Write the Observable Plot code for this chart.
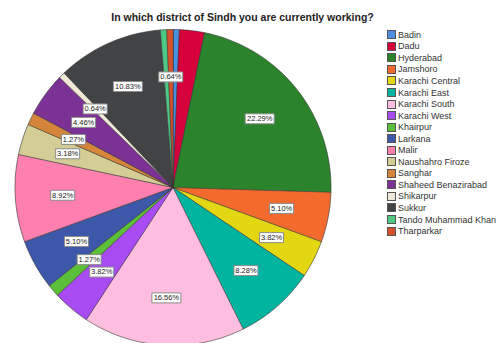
<!DOCTYPE html>
<html><head><meta charset="utf-8">
<script src="https://cdn.jsdelivr.net/npm/d3@7"></script>
<script src="https://cdn.jsdelivr.net/npm/@observablehq/plot@0.6"></script>
<style>
body{margin:0;background:#fff;font-family:"Liberation Sans",Arial,sans-serif;}
#wrap{position:relative;width:499px;height:343px;overflow:hidden;background:#fff;}
#chart{position:absolute;left:0;top:0;}
#title{position:absolute;top:11px;left:0;width:485px;text-align:center;font-weight:bold;font-size:10.5px;color:#222;white-space:nowrap;}
#legend{position:absolute;left:387px;top:29px;font-size:9px;color:#333;}
.item{display:flex;align-items:center;height:11.55px;white-space:nowrap;}
.sw{width:7px;height:7px;border:1px solid #555;margin-right:2px;flex:none;}
</style></head><body>
<div id="wrap"><div id="chart"></div><div id="title">In which district of Sindh you are currently working?</div><div id="legend"></div></div>
<script>
const districts = ["Badin","Dadu","Hyderabad","Jamshoro","Karachi Central","Karachi East","Karachi South","Karachi West","Khairpur","Larkana","Malir","Naushahro Firoze","Sanghar","Shaheed Benazirabad","Shikarpur","Sukkur","Tando Muhammad Khan","Tharparkar"];
const percents = [0.64, 2.55, 22.29, 5.10, 3.82, 8.28, 16.56, 3.82, 1.27, 5.10, 8.92, 3.18, 1.27, 4.46, 0.64, 10.83, 0.64, 0.64];
const showLabel = [false, false, true, true, true, true, true, true, true, true, true, true, true, true, true, true, false, true];
const colors = ["#4A8FE0","#D6003B","#2B842B","#F26A2E","#E3D612","#00B4A0","#FFBEDF","#A94BF2","#5CBF3A","#3D58A8","#FF7FAF","#D4CD96","#D4853A","#7B3294","#EEE8D5","#414345","#4FC886","#D5512B"];

const total = d3.sum(percents);
let cum = 0;
const slices = districts.map((name, i) => {
  const a0 = cum / total * 2 * Math.PI;
  cum += percents[i];
  const a1 = cum / total * 2 * Math.PI;
  const n = Math.max(2, Math.ceil((a1 - a0) / (Math.PI / 180)));
  const ring = [[0, 0]];
  for (let k = 0; k <= n; k++) {
    const a = a0 + (a1 - a0) * k / n;
    ring.push([Math.sin(a), -Math.cos(a)]);
  }
  ring.push([0, 0]);
  const am = (a0 + a1) / 2;
  return {
    type: "Feature",
    properties: {name, label: percents[i].toFixed(2) + "%", show: showLabel[i], lx: 0.7 * Math.sin(am), ly: -0.7 * Math.cos(am)},
    geometry: {type: "Polygon", coordinates: [ring]}
  };
});
const labels = slices.filter(d => d.properties.show).map(d => d.properties);

const box = (w, h) => ({draw(ctx) { ctx.rect(-w / 2, -h / 2, w, h); }});
const font = "'Liberation Sans', Arial, sans-serif";

const chart = Plot.plot({
  width: 380,
  height: 343,
  margin: 0,
  style: {background: "transparent", fontFamily: font},
  projection: d3.geoIdentity().scale(158).translate([172.5, 187]),
  color: {domain: districts, range: colors},
  marks: [
    Plot.geo(slices, {fill: d => d.properties.name, stroke: "#333", strokeWidth: 0.6, strokeLinejoin: "round"}),
    Plot.dot(labels.filter(d => d.label.length === 5), {x: "lx", y: "ly", symbol: box(24, 10), r: 5, fill: "white", stroke: "#8a8a8a", strokeWidth: 1}),
    Plot.dot(labels.filter(d => d.label.length === 6), {x: "lx", y: "ly", symbol: box(29, 10), r: 5, fill: "white", stroke: "#8a8a8a", strokeWidth: 1}),
    Plot.text(labels, {x: "lx", y: "ly", text: "label", fontSize: 7.5, fill: "#222", fontFamily: font})
  ]
});
document.getElementById("chart").appendChild(chart);

const legend = document.getElementById("legend");
districts.forEach((name, i) => {
  const row = document.createElement("div");
  row.className = "item";
  const sw = document.createElement("span");
  sw.className = "sw";
  sw.style.background = colors[i];
  row.appendChild(sw);
  row.appendChild(document.createTextNode(name));
  legend.appendChild(row);
});
</script>
</body></html>
